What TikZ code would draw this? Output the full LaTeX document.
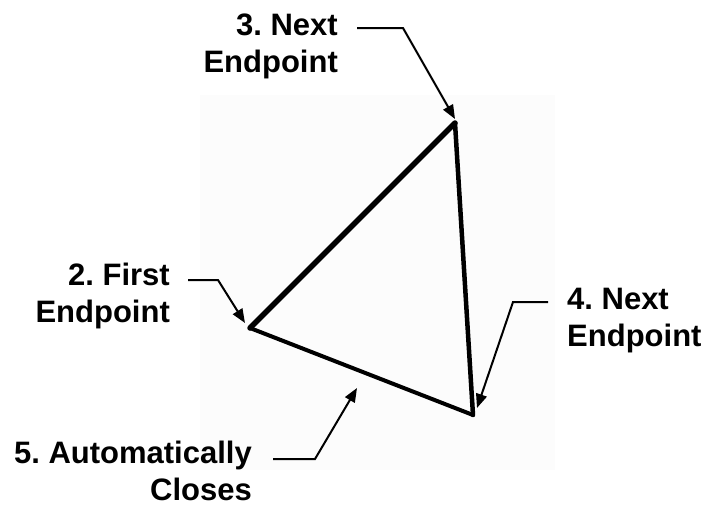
\documentclass[tikz,border=0pt]{standalone}
\usepackage{fontspec}
\setmainfont{Liberation Sans}
\usetikzlibrary{arrows.meta}
\definecolor{panel}{RGB}{252,252,252}
\tikzset{
  lbl/.style={inner sep=0pt, font=\fontsize{31}{37}\selectfont\bfseries\frenchspacing},
  leader/.style={line width=2pt, -{Triangle[length=14pt,width=11pt]}},
  edge/.style={line cap=round, line join=round}
}
\begin{document}
\begin{tikzpicture}[x=1pt,y=-1pt]
\useasboundingbox[fill=white] (0,0) rectangle (713,506);
\fill[panel] (200,95) rectangle (555,470);
% vertices
\coordinate (A) at (250,328);
\coordinate (B) at (455,123);
\coordinate (C) at (473,415);
\draw[edge, line width=5.5pt] (A) -- (B);
\draw[edge, line width=4.5pt] (B) -- (C);
\draw[edge, line width=4pt] (C) -- (A);
% labels
\node[lbl, align=right, anchor=north east] (l3) at (338,14) {3. Next\\Endpoint};
\node[lbl, align=right, anchor=north east] (l2) at (170,263) {2. First\\Endpoint};
\node[lbl, align=left, anchor=north west] (l4) at (567,288) {4. Next\\Endpoint};
\node[lbl, align=right, anchor=north east] (l5) at (252,441) {5. Automatically\\Closes};
% leader points
\coordinate (s3) at (357,28);  \coordinate (b3) at (403,28);  \coordinate (t3) at (455,119);
\coordinate (s2) at (188,280); \coordinate (b2) at (218,280); \coordinate (t2) at (245,323);
\coordinate (s4) at (548,302); \coordinate (b4) at (513,302); \coordinate (t4) at (477,408);
\coordinate (s5) at (273,459); \coordinate (b5) at (315,459); \coordinate (t5) at (357,388);
\draw[leader] (s3) -- (b3) -- (t3);
\draw[leader] (s2) -- (b2) -- (t2);
\draw[leader] (s4) -- (b4) -- (t4);
\draw[leader] (s5) -- (b5) -- (t5);
\end{tikzpicture}
\end{document}
